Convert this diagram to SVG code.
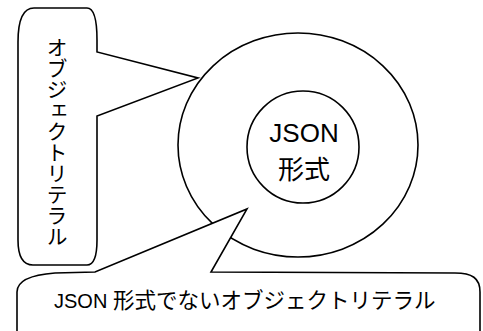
<svg xmlns="http://www.w3.org/2000/svg" width="483" height="331" viewBox="0 0 483 331">
  <style>
    .shape { fill: #ffffff; stroke: #000000; stroke-width: 1.6; stroke-linejoin: miter; }
    .label { font-family: "Liberation Sans", "Noto Sans CJK JP", sans-serif; fill: #000000; }
    .jp { font-family: "Noto Sans CJK JP", sans-serif; }
  </style>
  <rect width="483" height="331" fill="#ffffff"/>

  <!-- nested sets: all object literals / JSON form -->
  <g id="outer-set">
    <ellipse class="shape" cx="298" cy="145" rx="120" ry="112"/>
  </g>
  <g id="json-set">
    <circle class="shape" cx="303" cy="147" r="56"/>
    <text class="label" x="304" y="142" font-size="26" text-anchor="middle">JSON</text>
    <text class="label jp" x="304" y="179" font-size="26" text-anchor="middle">形式</text>
  </g>

  <!-- callout pointing at the outer ring -->
  <g id="callout-object-literal">
    <path class="shape" d="M34,8 L87,8 C93,8 97,18 97,40 L97,52 L198,78 L97,116 L97,240 C97,258 93,265 87,265 L33,265 C24,265 18,258 18,240 L18,42 C18,20 23,8 34,8 Z"/>
    <text class="label jp" x="57" y="37" font-size="21" style="writing-mode: vertical-rl; text-orientation: upright;">オブジェクトリテラル</text>
  </g>

  <!-- callout for the part of the ring outside JSON form -->
  <g id="callout-non-json">
    <path class="shape" d="M17,340 L17,292 C17,282 28,275 55,273 L95,272 L247,209 L211,272 L455,273 C472,273 480,278 480,292 L480,340 Z"/>
    <text class="label" x="54" y="308" font-size="20">JSON <tspan class="jp" font-size="21.5">形式でないオブジェクトリテラル</tspan></text>
  </g>
</svg>
